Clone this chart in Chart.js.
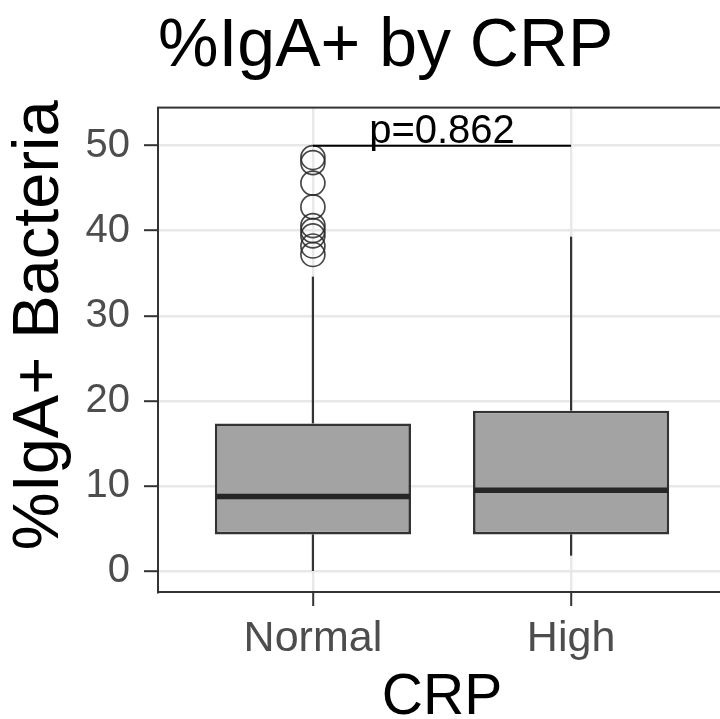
<!DOCTYPE html>
<html>
<head>
<meta charset="utf-8">
<script src="https://cdn.jsdelivr.net/npm/chart.js@4.4.1/dist/chart.umd.min.js"></script>
<style>
  body { margin: 0; background: #fff; overflow: hidden; }
</style>
</head>
<body>
<canvas id="boxChart" width="740" height="719"></canvas>
<script>
// Data
const categories = ["Normal", "High"];
const q1 = [4.3, 4.3];
const median = [8.75, 9.5];
const q3 = [17.35, 18.85];
const whiskerLow = [0.0, 1.8];
const whiskerHigh = [34.6, 39.3];
const outliersNormal = [48.6, 48.0, 45.6, 42.8, 40.6, 40.0, 39.4, 38.2, 37.2];
const yTicks = [0, 10, 20, 30, 40, 50];
const yMinorTicks = [5, 15, 25, 35, 45];
const bracketY = 50;
const pLabel = "p=0.862";

const FONT = "'Liberation Sans', Arial, Helvetica, sans-serif";

function line(ctx, x1, y1, x2, y2) {
    ctx.beginPath();
    ctx.moveTo(x1, y1);
    ctx.lineTo(x2, y2);
    ctx.stroke();
}

// whiskers, panel border, median lines, p-value bracket
const boxExtras = {
    id: "boxExtras",
    beforeDatasetsDraw(chart) {
        const ctx = chart.ctx, xs = chart.scales.x, ys = chart.scales.y;
        ctx.save();
        ctx.strokeStyle = "#333333";
        ctx.lineWidth = 2.2;
        categories.forEach((c, i) => {
            const x = xs.getPixelForValue(i + 1);
            line(ctx, x, ys.getPixelForValue(q3[i]), x, ys.getPixelForValue(whiskerHigh[i]));
            line(ctx, x, ys.getPixelForValue(q1[i]), x, ys.getPixelForValue(whiskerLow[i]));
        });
        ctx.restore();
    },
    afterDatasetsDraw(chart) {
        const ctx = chart.ctx, xs = chart.scales.x, ys = chart.scales.y;
        const bars = chart.getDatasetMeta(0).data;
        ctx.save();
        ctx.strokeStyle = "#262626";
        ctx.lineWidth = 5.5;
        bars.forEach((bar, i) => {
            const y = ys.getPixelForValue(median[i]);
            line(ctx, bar.x - bar.width / 2 + 1, y, bar.x + bar.width / 2 - 1, y);
        });

        // bracket
        const xa = xs.getPixelForValue(1), xb = xs.getPixelForValue(2);
        const yb = ys.getPixelForValue(bracketY);
        ctx.strokeStyle = "#000";
        ctx.lineWidth = 2;
        line(ctx, xa, yb, xb, yb);
        ctx.fillStyle = "#000";
        ctx.font = "40px " + FONT;
        ctx.textAlign = "center";
        ctx.textBaseline = "alphabetic";
        ctx.fillText(pLabel, (xa + xb) / 2, yb - 3);

        // panel border
        const a = chart.chartArea;
        ctx.strokeStyle = "#333333";
        ctx.lineWidth = 2;
        ctx.strokeRect(a.left, a.top, a.right - a.left, a.bottom - a.top);
        ctx.restore();
    }
};

const ctx = document.getElementById("boxChart").getContext("2d");
const boxChart = new Chart(ctx, {
    type: "bar",
    data: {
        datasets: [{
            type: "bar",
            data: categories.map((c, i) => ({ x: i + 1, y: [q1[i], q3[i]] })),
            backgroundColor: "#a3a3a3",
            borderColor: "#333333",
            borderWidth: 2.7,
            borderSkipped: false,
            categoryPercentage: 1,
            barPercentage: 0.76
        }, {
            type: "scatter",
            data: outliersNormal.map(v => ({ x: 1, y: v })),
            pointRadius: 12,
            pointBorderWidth: 1.7,
            pointBorderColor: "rgba(40,40,40,0.85)",
            pointBackgroundColor: "rgba(0,0,0,0)"
        }]
    },
    options: {
        responsive: false,
        animation: false,
        events: [],
        layout: { padding: { left: 0, right: 14, top: 0, bottom: 0 } },
        plugins: {
            legend: { display: false },
            tooltip: { enabled: false },
            title: {
                display: true,
                text: "%IgA+ by CRP",
                align: "start",
                fullSize: false,
                color: "#000",
                font: { family: FONT, size: 68, weight: "normal", lineHeight: 1.2 },
                padding: { top: 6, bottom: 20 }
            }
        },
        scales: {
            x: {
                type: "linear",
                min: 0.4,
                max: 2.6,
                offset: false,
                afterBuildTicks: scale => { scale.ticks = categories.map((c, i) => ({ value: i + 1 })); },
                afterFit: scale => { scale.height = 127; },
                ticks: {
                    callback: v => categories[v - 1],
                    color: "#4d4d4d",
                    font: { family: FONT, size: 43 },
                    padding: 7,
                    maxRotation: 0
                },
                grid: { offset: false, color: "#e8e8e8", lineWidth: 2.4, tickLength: 14, tickColor: "#333333", tickWidth: 2 },
                border: { color: "#333333", width: 2 },
                title: {
                    display: true,
                    text: "CRP",
                    color: "#000",
                    font: { family: FONT, size: 57, lineHeight: 0.72 },
                    padding: { top: 0, bottom: 0 }
                }
            },
            y: {
                type: "linear",
                min: -2.47,
                max: 54.47,
                afterBuildTicks: scale => {
                    scale.ticks = yTicks.concat(yMinorTicks).sort((a, b) => a - b).map(v => ({ value: v }));
                },
                afterFit: scale => { scale.width = 158; },
                ticks: {
                    callback: v => (yTicks.includes(v) ? v : ""),
                    color: "#4d4d4d",
                    font: { family: FONT, size: 40 },
                    padding: 14
                },
                grid: {
                    color: c => (yTicks.includes(c.tick.value) ? "#e8e8e8" : "#efefef"),
                    lineWidth: c => (yTicks.includes(c.tick.value) ? 2.4 : 1.2),
                    tickLength: 14,
                    tickColor: c => (yTicks.includes(c.tick.value) ? "#333333" : "rgba(0,0,0,0)"),
                    tickWidth: 2
                },
                border: { color: "#333333", width: 2 },
                title: {
                    display: true,
                    // leading spaces nudge the label up, as in the original
                    text: "  \u2009%IgA+ Bacteria",
                    color: "#000",
                    font: { family: FONT, size: 65, lineHeight: 1 },
                    padding: { top: 8, bottom: 0 }
                }
            }
        }
    },
    plugins: [boxExtras]
});
</script>
</body>
</html>
